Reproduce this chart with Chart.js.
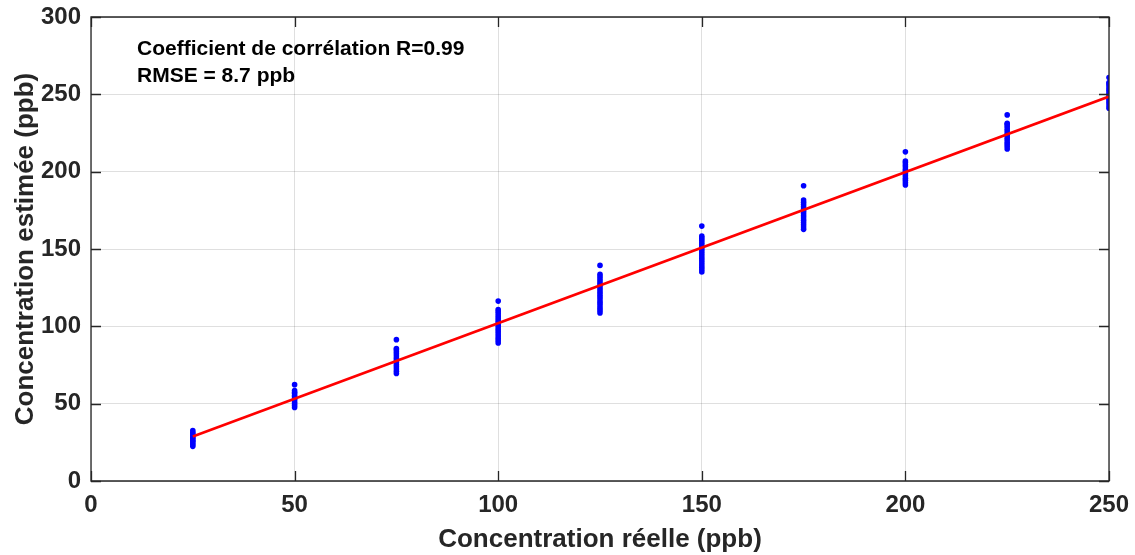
<!DOCTYPE html>
<html>
<head>
<meta charset="utf-8">
<script src="https://cdn.jsdelivr.net/npm/chart.js@4"></script>
<style>
html,body{margin:0;padding:0;background:#fff;}
#wrap{width:1135px;height:555px;}
</style>
</head>
<body>
<div id="wrap"><canvas id="c" width="1135" height="555"></canvas></div>
<script>
// ---- data ----
const concReelle = [25, 50, 75, 100, 125, 150, 175, 200, 225, 250];
const est25  = [22.4, 23.6, 24.5, 25.7, 26.4, 27.5, 28.3, 29.4, 30.5, 31.3, 32.6];
const est50  = [47.6, 48.8, 50.0, 51.1, 52.3, 53.2, 54.4, 55.3, 56.5, 57.4, 58.5, 62.3];
const est75  = [69.5, 70.9, 72.4, 73.8, 75.1, 76.6, 77.9, 79.3, 80.8, 82.2, 83.6, 84.9, 85.6, 91.4];
const est100 = [89.3, 90.8, 92.3, 93.7, 95.2, 96.6, 98.1, 99.5, 100.9, 102.4, 103.8, 105.3, 106.7, 108.2, 109.6, 110.9, 116.3];
const est125 = [108.7, 110.2, 111.7, 113.2, 114.7, 116.1, 117.6, 119.1, 120.5, 122.0, 123.5, 124.9, 126.4, 127.9, 129.3, 130.8, 132.2, 133.7, 139.4];
const est150 = [135.2, 136.7, 138.2, 139.6, 141.1, 142.6, 144.0, 145.5, 146.9, 148.4, 149.9, 151.3, 152.8, 154.2, 155.7, 157.0, 158.3, 164.8];
const est175 = [162.7, 164.2, 165.7, 167.1, 168.6, 170.1, 171.5, 173.0, 174.4, 175.9, 177.3, 178.8, 180.2, 181.7, 190.9];
const est200 = [191.4, 192.9, 194.4, 195.8, 197.3, 198.7, 200.2, 201.6, 203.1, 204.5, 205.9, 206.9, 212.8];
const est225 = [214.7, 216.2, 217.7, 219.1, 220.6, 222.0, 223.5, 224.9, 226.4, 227.8, 229.3, 230.6, 231.3, 236.7];
const est250 = [241.0, 242.5, 244.0, 245.4, 246.9, 248.3, 249.8, 251.2, 252.7, 254.1, 255.6, 256.8, 257.6, 260.9];
const fitX = [25, 250];
const fitY = [28.8, 248.6];
const xTicks = [0, 50, 100, 150, 200, 250];
const yTicks = [0, 50, 100, 150, 200, 250, 300];
const annotLines = ["Coefficient de corrélation R=0.99", "RMSE = 8.7 ppb"];

const groups = [est25, est50, est75, est100, est125, est150, est175, est200, est225, est250];
const scatterPts = [];
groups.forEach((g, i) => g.forEach(v => scatterPts.push({x: concReelle[i], y: v})));
const fitPts = fitX.map((x, i) => ({x: x, y: fitY[i]}));

const FONT = "'Liberation Sans', Arial, Helvetica, sans-serif";
const AX = '#262626';

const boxPlugin = {
  id: 'boxPlugin',
  afterDraw(chart) {
    const ctx = chart.ctx;
    const a = chart.chartArea;
    const xs = chart.scales.x, ys = chart.scales.y;
    ctx.save();
    ctx.strokeStyle = AX;
    ctx.lineWidth = 1.3;
    ctx.beginPath();
    ctx.rect(a.left, a.top, a.right - a.left, a.bottom - a.top);
    ctx.stroke();
    const tl = 10;
    ctx.beginPath();
    xTicks.forEach(v => {
      const px = Math.round(xs.getPixelForValue(v)) + 0.5;
      ctx.moveTo(px, a.bottom); ctx.lineTo(px, a.bottom - tl);
      ctx.moveTo(px, a.top); ctx.lineTo(px, a.top + tl);
    });
    yTicks.forEach(v => {
      const py = Math.round(ys.getPixelForValue(v)) + 0.5;
      ctx.moveTo(a.left, py); ctx.lineTo(a.left + tl, py);
      ctx.moveTo(a.right, py); ctx.lineTo(a.right - tl, py);
    });
    ctx.stroke();
    // annotation text
    ctx.fillStyle = '#000';
    ctx.font = "bold 21px " + FONT;
    ctx.textBaseline = 'alphabetic';
    ctx.textAlign = 'left';
    ctx.fillText(annotLines[0], a.left + 46, a.top + 38);
    ctx.fillText(annotLines[1], a.left + 46, a.top + 65);
    ctx.restore();
  }
};

new Chart(document.getElementById('c'), {
  type: 'scatter',
  data: {
    datasets: [
      {
        data: scatterPts,
        backgroundColor: '#0000ff',
        borderColor: '#0000ff',
        pointRadius: 2.8,
        pointBorderWidth: 0,
        order: 2
      },
      {
        type: 'line',
        data: fitPts,
        borderColor: '#ff0000',
        borderWidth: 2.6,
        pointRadius: 0,
        fill: false,
        order: 1
      }
    ]
  },
  options: {
    responsive: false,
    animation: false,
    layout: {padding: {top: 17, right: 26, left: 0, bottom: 0}},
    plugins: {legend: {display: false}, tooltip: {enabled: false}},
    scales: {
      x: {
        type: 'linear',
        min: 0, max: 250,
        afterFit(s) { s.height = 74; s.paddingLeft = 0; s.paddingRight = 0; },
        afterBuildTicks(s) { s.ticks = xTicks.map(v => ({value: v})); },
        grid: {color: 'rgba(38,38,38,0.15)', drawTicks: false, lineWidth: 1},
        border: {display: false},
        ticks: {color: AX, font: {family: FONT, size: 24, weight: 'bold'}, padding: 10, maxRotation: 0},
        title: {display: true, text: 'Concentration réelle (ppb)', color: AX,
                font: {family: FONT, size: 26, weight: 'bold'}, padding: {top: 0, bottom: 0}}
      },
      y: {
        type: 'linear',
        min: 0, max: 300,
        afterFit(s) { s.width = 91; s.paddingTop = 0; s.paddingBottom = 0; },
        afterBuildTicks(s) { s.ticks = yTicks.map(v => ({value: v})); },
        grid: {color: 'rgba(38,38,38,0.15)', drawTicks: false, lineWidth: 1},
        border: {display: false},
        ticks: {color: AX, font: {family: FONT, size: 24, weight: 'bold'}, padding: 10},
        title: {display: true, text: 'Concentration estimée (ppb)', color: AX,
                font: {family: FONT, size: 26, weight: 'bold'}, padding: {top: 10, bottom: 0}}
      }
    }
  },
  plugins: [boxPlugin]
});
</script>
</body>
</html>
